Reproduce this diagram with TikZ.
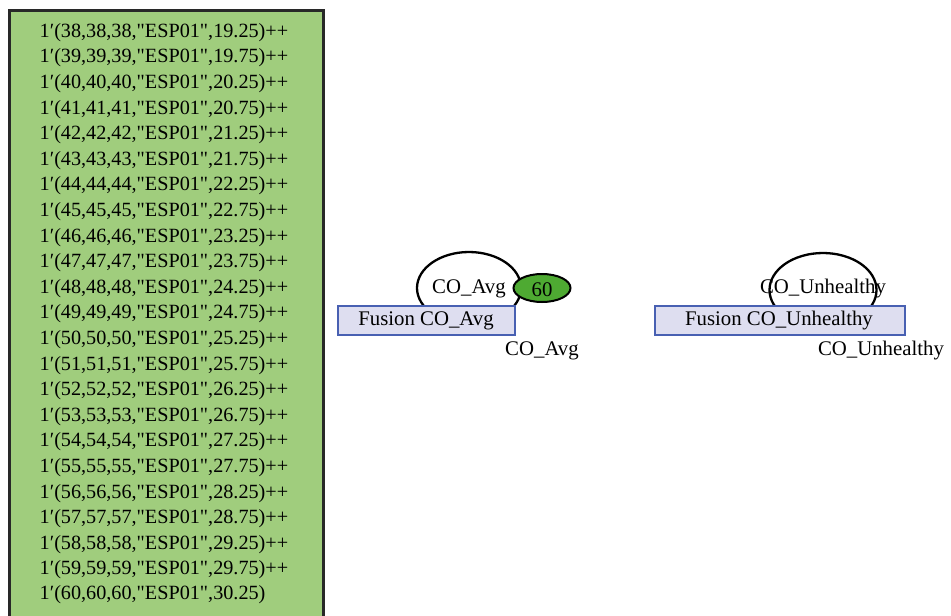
\documentclass[tikz,border=0pt]{standalone}
\usepackage{fontspec}
\setmainfont{Liberation Serif}[Ligatures=TeXOff]
\usetikzlibrary{shapes.geometric}
\definecolor{markgreen}{RGB}{160,205,125}
\definecolor{tokgreen}{RGB}{78,170,50}
\definecolor{lav}{RGB}{222,222,240}
\definecolor{fusblue}{RGB}{72,96,178}
\definecolor{darkb}{RGB}{40,40,40}
\tikzset{
  txt/.style={font=\fontsize{20.8}{24}\selectfont, inner sep=0pt},
  mtxt/.style={font=\fontsize{20.2}{24}\selectfont, inner sep=0pt},
  place/.style={ellipse, draw=black, line width=2.3pt, inner sep=0pt},
  fusion/.style={rectangle, draw=fusblue, fill=lav, line width=2pt, inner sep=0pt, anchor=north west},
  token/.style={ellipse, draw=black, fill=tokgreen, line width=2pt, inner sep=0pt, font=\fontsize{20.8}{24}\selectfont}
}
\begin{document}
\begin{tikzpicture}[x=1pt,y=-1pt]
\useasboundingbox (0,0) rectangle (951,616);
% marking box
\node[rectangle, draw=darkb, fill=markgreen, line width=2.6pt, anchor=north west,
      minimum width=314pt, minimum height=640pt, inner sep=0pt] (mark) at (8,9) {};
\foreach \i/\a/\v in {0/38/19.25,1/39/19.75,2/40/20.25,3/41/20.75,4/42/21.25,5/43/21.75,
  6/44/22.25,7/45/22.75,8/46/23.25,9/47/23.75,10/48/24.25,11/49/24.75,12/50/25.25,
  13/51/25.75,14/52/26.25,15/53/26.75,16/54/27.25,17/55/27.75,18/56/28.25,19/57/28.75,
  20/58/29.25,21/59/29.75}
  \node[mtxt] (l\i) at (164,{32.5+25.6*\i}) {1′(\a,\a,\a,"ESP01",\v)++};
\node[mtxt, anchor=west] (l22) at (l21.west |- 0,594.5) {1′(60,60,60,"ESP01",30.25)};
% CO_Avg place
\node[place, minimum width=104pt, minimum height=72pt] (pavg) at (469,288) {};
\node[fusion, minimum width=177pt, minimum height=29pt] (favg) at (337,305) {};
\node[txt] (favgt) at (426,321) {Fusion CO\_Avg};
\node[txt] (avglab) at (469,289) {CO\_Avg};
\node[token, minimum width=57pt, minimum height=28pt] (tok) at (542,288) {};
\node[txt] (tokt) at (542,289.5) {60};
\node[txt] (avgname) at (542,351) {CO\_Avg};
% CO_Unhealthy place
\node[place, minimum width=107pt, minimum height=74pt] (punh) at (823,290) {};
\node[fusion, minimum width=250pt, minimum height=29pt] (funh) at (654,305) {};
\node[txt] (funht) at (779,321) {Fusion CO\_Unhealthy};
\node[txt] (unhlab) at (823,289) {CO\_Unhealthy};
\node[txt] (unhname) at (881,351) {CO\_Unhealthy};
\end{tikzpicture}
\end{document}
